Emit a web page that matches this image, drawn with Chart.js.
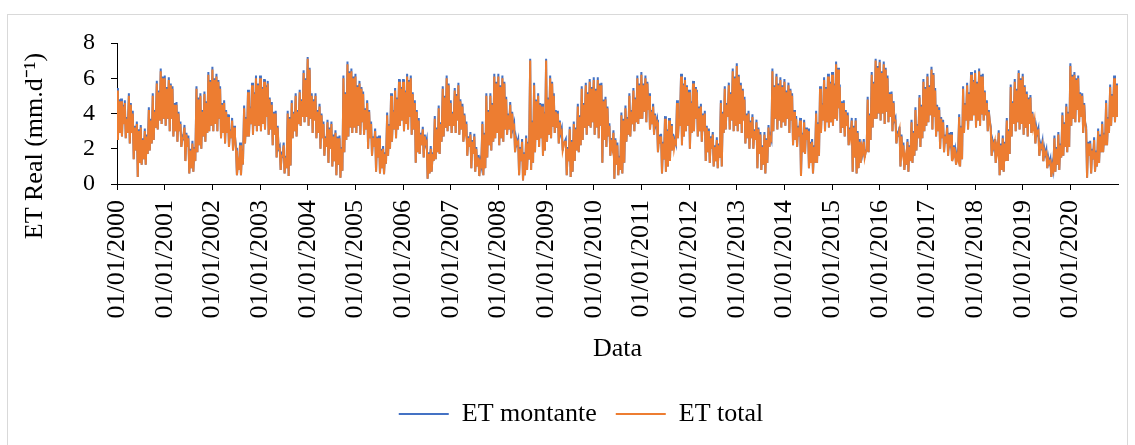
<!DOCTYPE html>
<html>
<head>
<meta charset="utf-8">
<script src="https://cdn.jsdelivr.net/npm/chart.js@4.4.1/dist/chart.umd.min.js"></script>
<style>
  html, body { margin: 0; padding: 0; background: #fff; }
  #frame { position: absolute; left: 7px; top: 14px; width: 1121px; height: 445px;
           border: 1px solid #d9d9d9; box-sizing: border-box; }
  #wrap { position: absolute; left: 0; top: 0; width: 1135px; height: 445px; }
</style>
</head>
<body>
<div id="frame"></div>
<div id="wrap"><canvas id="c" width="1135" height="445"></canvas></div>
<script>
// Years covered; each year holds 12 months x 4 samples (days below)
const years = [2000, 2001, 2002, 2003, 2004, 2005, 2006, 2007, 2008, 2009, 2010,
               2011, 2012, 2013, 2014, 2015, 2016, 2017, 2018, 2019, 2020];
const sampleDays = [1, 8, 16, 23];
const tickLabels = years.map(y => '01/01/' + y);
const yTicks = [0, 2, 4, 6, 8];
const yTitle = 'ET Real (mm.d⁻¹)';
const xTitle = 'Data';

// ET montante (mm/d) - one line per year, 4 samples per month
const etMontante = [
  5.45,2.5,4.8,2.9, 4.85,2.7,4.5,3.4, 4.75,2.6,3.8,2.9, 5.15,2.3,4.6,2.9, 4.15,1.4,3.3,1.9, 3.55,0.4,3.1,1.2, 3.35,1.1,2.6,1.4, 3.15,1.1,2.8,1.7, 4.35,1.9,3.7,2.3, 5.15,2.5,4.2,3.2, 5.85,3.1,5.3,3.6, 6.55,3.4,6.1,3.7,
  6.15,3.3,5.5,3.7, 6.05,3.0,5.7,3.7, 5.55,2.7,4.6,3.0, 4.65,2.4,4.1,3.0, 3.55,2.1,2.7,2.6, 3.35,1.3,2.9,2.1, 2.75,0.6,2.0,0.9, 2.45,0.7,2.1,1.3, 5.55,1.8,4.9,2.2, 5.15,2.0,4.2,2.7, 5.25,2.4,4.7,2.9, 6.35,3.0,5.9,3.3,
  6.65,3.0,6.0,3.4, 6.25,3.0,5.9,3.7, 5.55,2.6,4.6,2.9, 4.75,2.3,4.2,2.9, 3.95,2.1,3.1,2.6, 3.75,1.9,3.3,2.7, 2.05,0.5,1.3,0.8, 2.35,0.5,2.0,1.1, 4.45,2.3,3.8,2.7, 5.35,2.7,4.4,3.4, 5.75,2.8,5.2,3.3, 6.15,3.0,5.7,3.3,
  6.15,3.0,5.5,3.4, 5.95,3.1,5.6,3.8, 5.85,2.8,4.9,3.1, 4.65,2.2,4.1,2.8, 4.15,1.5,3.3,2.0, 2.15,0.8,1.7,1.6, 2.35,0.6,1.6,0.9, 4.15,0.45,3.8,1.05, 4.75,2.6,4.1,3.0, 5.15,2.7,4.2,3.4, 5.35,3.3,4.8,3.8, 6.45,3.5,6.0,3.8,
  7.2,3.3,6.6,3.7, 5.15,2.9,4.8,3.6, 5.15,2.6,4.2,2.9, 4.55,2.0,4.0,2.6, 3.55,1.6,2.7,2.1, 3.65,1.2,3.2,2.0, 3.55,1.0,2.8,1.3, 3.05,0.5,2.7,1.1, 2.75,0.35,2.1,0.75, 6.15,1.8,5.2,2.5, 6.95,2.7,6.4,3.2, 6.55,2.9,6.1,3.2,
  6.25,2.9,5.6,3.3, 5.85,2.8,5.5,3.5, 5.25,2.8,4.3,3.1, 4.75,2.0,4.2,2.6, 3.55,1.6,2.7,2.1, 3.15,0.7,2.7,1.5, 2.75,0.6,2.0,0.9, 2.15,0.55,1.8,1.15, 4.05,1.6,3.4,2.0, 5.15,2.4,4.2,3.1, 5.45,2.6,4.9,3.1, 5.95,3.3,5.5,3.6,
  5.95,3.0,5.3,3.4, 6.25,3.1,5.9,3.8, 6.15,2.8,5.2,3.1, 4.75,1.2,4.2,1.8, 3.75,1.7,2.9,2.2, 3.25,1.5,2.8,2.3, 2.55,0.3,1.8,0.6, 2.15,0.7,1.8,1.3, 3.85,1.4,3.2,1.8, 4.45,1.7,3.5,2.4, 5.55,2.7,5.0,3.2, 6.15,3.0,5.7,3.3,
  4.75,2.9,4.1,3.3, 5.45,2.9,5.1,3.6, 5.75,2.8,4.8,3.1, 4.55,2.4,4.0,3.0, 3.55,1.6,2.7,2.1, 2.95,0.9,2.5,1.7, 2.85,0.7,2.1,1.0, 1.65,0.45,1.3,1.05, 3.55,0.5,2.9,0.9, 5.15,1.5,4.2,2.2, 5.15,1.9,4.6,2.4, 6.25,2.6,5.8,2.9,
  6.25,2.2,5.6,2.6, 6.15,2.4,5.8,3.1, 4.95,2.8,4.0,3.1, 4.65,2.6,4.1,3.2, 3.45,1.8,2.6,2.3, 2.55,0.5,2.1,1.3, 2.55,0.2,1.8,0.5, 2.75,0.8,2.4,1.4, 7.1,0.8,3.6,1.2, 5.75,1.8,4.8,2.5, 5.15,2.1,4.6,2.6, 4.55,1.6,4.1,1.9,
  7.1,2.4,4.9,2.8, 6.15,2.6,5.8,3.3, 5.15,2.9,4.2,3.2, 4.15,2.3,3.6,2.9, 3.15,1.9,2.3,2.4, 2.55,0.5,2.1,1.3, 3.25,0.4,2.5,0.7, 3.55,1.3,3.2,1.9, 4.55,1.8,3.9,2.2, 5.55,2.5,4.6,3.2, 5.75,2.8,5.2,3.3, 5.95,3.2,5.5,3.5,
  6.05,2.8,5.4,3.2, 6.05,2.6,5.7,3.3, 5.75,1.2,4.8,2.5, 4.95,2.1,4.4,2.7, 3.45,1.6,2.6,2.1, 3.05,0.3,2.6,1.1, 2.35,0.5,1.6,0.8, 4.05,0.6,3.7,1.2, 4.45,2.4,3.8,2.8, 5.15,2.7,4.2,3.4, 5.45,3.0,4.9,3.5, 6.15,3.4,5.7,3.7,
  6.35,3.7,5.7,4.1, 6.15,3.5,5.8,4.2, 5.15,3.1,4.2,3.4, 4.55,2.8,4.0,3.4, 3.65,1.8,2.8,2.3, 2.85,0.6,2.4,1.4, 3.85,0.7,3.1,1.0, 3.75,1.3,3.4,1.9, 2.85,2.0,2.5,2.3, 4.75,2.6,3.8,3.3, 6.25,2.2,5.7,2.7, 6.05,3.0,5.6,3.3,
  5.35,2.0,4.7,2.9, 5.85,3.0,5.5,3.7, 5.35,2.7,4.4,3.0, 4.55,2.4,4.0,3.0, 4.15,1.3,3.3,1.8, 3.15,1.2,2.7,2.0, 2.95,1.0,2.2,1.3, 2.65,0.9,2.3,1.5, 4.75,1.0,4.1,2.9, 5.55,3.1,4.6,3.8, 5.75,3.1,5.2,3.6, 6.55,3.0,6.1,3.3,
  6.85,3.0,6.2,3.4, 5.75,2.9,5.4,3.6, 4.95,2.3,4.0,2.6, 4.15,2.0,3.6,2.6, 3.95,2.0,3.1,2.5, 3.65,0.9,3.2,1.7, 2.95,0.8,2.2,1.1, 2.95,0.6,2.6,1.2, 3.35,2.1,2.7,2.5, 6.55,3.0,5.6,3.7, 6.25,3.1,5.7,3.6, 6.05,3.2,5.6,3.5,
  5.95,3.3,5.3,3.7, 5.75,2.9,5.4,3.6, 5.15,2.2,4.2,2.5, 3.85,2.1,3.3,2.7, 3.75,0.45,2.9,1.8, 3.65,1.7,3.2,2.5, 3.15,0.9,2.4,1.2, 2.55,0.6,2.2,1.2, 4.15,1.2,3.5,1.6, 5.55,2.9,4.6,3.6, 6.05,3.0,5.5,3.5, 6.25,3.2,5.8,3.5,
  6.35,3.3,5.7,3.7, 6.95,3.6,6.6,4.3, 5.65,2.9,4.7,3.2, 4.75,2.7,4.2,3.3, 4.05,2.2,3.2,2.7, 3.75,0.7,3.3,1.5, 3.75,0.6,3.0,0.9, 2.55,1.2,2.2,1.8, 2.55,1.5,1.9,1.9, 4.95,1.8,4.0,2.5, 6.35,3.2,5.8,3.7, 7.1,3.7,6.7,4.0,
  7.05,3.6,6.4,4.0, 6.95,3.4,6.6,4.1, 6.15,3.5,5.2,3.8, 5.25,3.0,4.7,3.6, 3.75,2.3,2.9,2.8, 3.25,1.0,2.8,1.8, 2.35,0.8,1.6,1.1, 2.55,0.7,2.2,1.3, 3.65,1.2,3.0,1.6, 4.35,1.9,3.4,2.6, 5.05,2.1,4.5,2.6, 5.95,3.0,5.5,3.3,
  6.25,3.5,5.6,3.9, 6.65,3.1,6.3,3.8, 5.45,2.7,4.5,3.0, 4.35,2.0,3.8,2.6, 3.65,1.8,2.8,2.3, 3.35,1.6,2.9,2.4, 2.95,1.3,2.2,1.6, 1.95,1.1,1.7,1.4, 3.95,1.0,3.3,1.4, 5.55,2.9,4.6,3.6, 5.75,3.1,5.2,3.6, 6.35,3.6,5.9,3.9,
  6.45,3.2,5.8,3.6, 6.55,3.3,6.2,4.0, 6.25,3.6,5.3,3.9, 4.75,3.0,4.2,3.6, 3.25,1.6,2.4,2.1, 2.55,1.2,2.2,1.8, 3.05,0.5,2.3,0.8, 2.75,0.7,2.4,1.3, 3.75,1.3,3.1,1.7, 5.65,2.7,4.7,3.4, 5.95,3.0,5.4,3.5, 6.45,3.1,6.0,3.4,
  6.25,2.8,5.6,3.2, 5.25,2.7,4.9,3.4, 5.05,2.9,4.1,3.2, 3.75,2.3,3.2,2.9, 3.15,1.6,2.3,2.1, 2.45,1.3,2.0,1.7, 1.95,0.9,1.5,1.2, 1.45,0.4,1.1,0.8, 2.75,0.7,2.1,1.1, 2.95,0.8,2.3,1.5, 4.05,1.6,3.5,2.1, 4.55,1.8,4.1,2.1,
  6.85,3.3,6.2,3.7, 6.35,3.5,6.0,4.2, 6.15,3.5,5.2,3.8, 5.15,2.9,4.6,3.5, 3.25,0.35,2.4,1.6, 2.45,0.6,2.0,1.4, 2.65,0.7,1.9,1.0, 3.15,1.2,2.8,1.8, 3.55,1.8,2.9,2.2, 4.75,2.2,3.8,2.9, 5.65,3.3,5.1,3.8, 6.15,3.5,5.7,3.8
];

// ET total (mm/d) - one line per year, 4 samples per month
const etTotal = [
  5.3,2.5,4.7,2.9, 4.7,2.7,4.4,3.4, 4.6,2.6,3.7,2.9, 5.0,2.3,4.5,2.9, 4.0,1.4,3.2,1.9, 3.4,0.4,3.0,1.2, 3.2,1.1,2.5,1.4, 3.0,1.1,2.7,1.7, 4.2,1.9,3.6,2.3, 5.0,2.5,4.1,3.2, 5.7,3.1,5.2,3.6, 6.4,3.4,6.0,3.7,
  6.0,3.3,5.4,3.7, 5.9,3.0,5.6,3.7, 5.4,2.7,4.5,3.0, 4.5,2.4,4.0,3.0, 3.4,2.1,2.6,2.6, 3.2,1.3,2.8,2.1, 2.6,0.6,1.9,0.9, 2.3,0.7,2.0,1.3, 5.4,1.8,4.8,2.2, 5.0,2.0,4.1,2.7, 5.1,2.4,4.6,2.9, 6.2,3.0,5.8,3.3,
  6.5,3.0,5.9,3.4, 6.1,3.0,5.8,3.7, 5.4,2.6,4.5,2.9, 4.6,2.3,4.1,2.9, 3.8,2.1,3.0,2.6, 3.6,1.9,3.2,2.7, 1.9,0.5,1.2,0.8, 2.2,0.5,1.9,1.1, 4.3,2.3,3.7,2.7, 5.2,2.7,4.3,3.4, 5.6,2.8,5.1,3.3, 6.0,3.0,5.6,3.3,
  6.0,3.0,5.4,3.4, 5.8,3.1,5.5,3.8, 5.7,2.8,4.8,3.1, 4.5,2.2,4.0,2.8, 4.0,1.5,3.2,2.0, 2.0,0.8,1.6,1.6, 2.2,0.6,1.5,0.9, 4.0,0.45,3.7,1.05, 4.6,2.6,4.0,3.0, 5.0,2.7,4.1,3.4, 5.2,3.3,4.7,3.8, 6.3,3.5,5.9,3.8,
  7.1,3.3,6.5,3.7, 5.0,2.9,4.7,3.6, 5.0,2.6,4.1,2.9, 4.4,2.0,3.9,2.6, 3.4,1.6,2.6,2.1, 3.5,1.2,3.1,2.0, 3.4,1.0,2.7,1.3, 2.9,0.5,2.6,1.1, 2.6,0.35,2.0,0.75, 6.0,1.8,5.1,2.5, 6.8,2.7,6.3,3.2, 6.4,2.9,6.0,3.2,
  6.1,2.9,5.5,3.3, 5.7,2.8,5.4,3.5, 5.1,2.8,4.2,3.1, 4.6,2.0,4.1,2.6, 3.4,1.6,2.6,2.1, 3.0,0.7,2.6,1.5, 2.6,0.6,1.9,0.9, 2.0,0.55,1.7,1.15, 3.9,1.6,3.3,2.0, 5.0,2.4,4.1,3.1, 5.3,2.6,4.8,3.1, 5.8,3.3,5.4,3.6,
  5.8,3.0,5.2,3.4, 6.1,3.1,5.8,3.8, 6.0,2.8,5.1,3.1, 4.6,1.2,4.1,1.8, 3.6,1.7,2.8,2.2, 3.1,1.5,2.7,2.3, 2.4,0.3,1.7,0.6, 2.0,0.7,1.7,1.3, 3.7,1.4,3.1,1.8, 4.3,1.7,3.4,2.4, 5.4,2.7,4.9,3.2, 6.0,3.0,5.6,3.3,
  4.6,2.9,4.0,3.3, 5.3,2.9,5.0,3.6, 5.6,2.8,4.7,3.1, 4.4,2.4,3.9,3.0, 3.4,1.6,2.6,2.1, 2.8,0.9,2.4,1.7, 2.7,0.7,2.0,1.0, 1.5,0.45,1.2,1.05, 3.4,0.5,2.8,0.9, 5.0,1.5,4.1,2.2, 5.0,1.9,4.5,2.4, 6.1,2.6,5.7,2.9,
  6.1,2.2,5.5,2.6, 6.0,2.4,5.7,3.1, 4.8,2.8,3.9,3.1, 4.5,2.6,4.0,3.2, 3.3,1.8,2.5,2.3, 2.4,0.5,2.0,1.3, 2.4,0.2,1.7,0.5, 2.6,0.8,2.3,1.4, 7.0,0.8,3.5,1.2, 5.6,1.8,4.7,2.5, 5.0,2.1,4.5,2.6, 4.4,1.6,4.0,1.9,
  7.0,2.4,4.8,2.8, 6.0,2.6,5.7,3.3, 5.0,2.9,4.1,3.2, 4.0,2.3,3.5,2.9, 3.0,1.9,2.2,2.4, 2.4,0.5,2.0,1.3, 3.1,0.4,2.4,0.7, 3.4,1.3,3.1,1.9, 4.4,1.8,3.8,2.2, 5.4,2.5,4.5,3.2, 5.6,2.8,5.1,3.3, 5.8,3.2,5.4,3.5,
  5.9,2.8,5.3,3.2, 5.9,2.6,5.6,3.3, 5.6,1.2,4.7,2.5, 4.8,2.1,4.3,2.7, 3.3,1.6,2.5,2.1, 2.9,0.3,2.5,1.1, 2.2,0.5,1.5,0.8, 3.9,0.6,3.6,1.2, 4.3,2.4,3.7,2.8, 5.0,2.7,4.1,3.4, 5.3,3.0,4.8,3.5, 6.0,3.4,5.6,3.7,
  6.2,3.7,5.6,4.1, 6.0,3.5,5.7,4.2, 5.0,3.1,4.1,3.4, 4.4,2.8,3.9,3.4, 3.5,1.8,2.7,2.3, 2.7,0.6,2.3,1.4, 3.7,0.7,3.0,1.0, 3.6,1.3,3.3,1.9, 2.7,2.0,2.4,2.3, 4.6,2.6,3.7,3.3, 6.1,2.2,5.6,2.7, 5.9,3.0,5.5,3.3,
  5.2,2.0,4.6,2.9, 5.7,3.0,5.4,3.7, 5.2,2.7,4.3,3.0, 4.4,2.4,3.9,3.0, 4.0,1.3,3.2,1.8, 3.0,1.2,2.6,2.0, 2.8,1.0,2.1,1.3, 2.5,0.9,2.2,1.5, 4.6,1.0,4.0,2.9, 5.4,3.1,4.5,3.8, 5.6,3.1,5.1,3.6, 6.4,3.0,6.0,3.3,
  6.7,3.0,6.1,3.4, 5.6,2.9,5.3,3.6, 4.8,2.3,3.9,2.6, 4.0,2.0,3.5,2.6, 3.8,2.0,3.0,2.5, 3.5,0.9,3.1,1.7, 2.8,0.8,2.1,1.1, 2.8,0.6,2.5,1.2, 3.2,2.1,2.6,2.5, 6.4,3.0,5.5,3.7, 6.1,3.1,5.6,3.6, 5.9,3.2,5.5,3.5,
  5.8,3.3,5.2,3.7, 5.6,2.9,5.3,3.6, 5.0,2.2,4.1,2.5, 3.7,2.1,3.2,2.7, 3.6,0.45,2.8,1.8, 3.5,1.7,3.1,2.5, 3.0,0.9,2.3,1.2, 2.4,0.6,2.1,1.2, 4.0,1.2,3.4,1.6, 5.4,2.9,4.5,3.6, 5.9,3.0,5.4,3.5, 6.1,3.2,5.7,3.5,
  6.2,3.3,5.6,3.7, 6.8,3.6,6.5,4.3, 5.5,2.9,4.6,3.2, 4.6,2.7,4.1,3.3, 3.9,2.2,3.1,2.7, 3.6,0.7,3.2,1.5, 3.6,0.6,2.9,0.9, 2.4,1.2,2.1,1.8, 2.4,1.5,1.8,1.9, 4.8,1.8,3.9,2.5, 6.2,3.2,5.7,3.7, 7.0,3.7,6.6,4.0,
  6.9,3.6,6.3,4.0, 6.8,3.4,6.5,4.1, 6.0,3.5,5.1,3.8, 5.1,3.0,4.6,3.6, 3.6,2.3,2.8,2.8, 3.1,1.0,2.7,1.8, 2.2,0.8,1.5,1.1, 2.4,0.7,2.1,1.3, 3.5,1.2,2.9,1.6, 4.2,1.9,3.3,2.6, 4.9,2.1,4.4,2.6, 5.8,3.0,5.4,3.3,
  6.1,3.5,5.5,3.9, 6.5,3.1,6.2,3.8, 5.3,2.7,4.4,3.0, 4.2,2.0,3.7,2.6, 3.5,1.8,2.7,2.3, 3.2,1.6,2.8,2.4, 2.8,1.3,2.1,1.6, 1.8,1.1,1.6,1.4, 3.8,1.0,3.2,1.4, 5.4,2.9,4.5,3.6, 5.6,3.1,5.1,3.6, 6.2,3.6,5.8,3.9,
  6.3,3.2,5.7,3.6, 6.4,3.3,6.1,4.0, 6.1,3.6,5.2,3.9, 4.6,3.0,4.1,3.6, 3.1,1.6,2.3,2.1, 2.4,1.2,2.1,1.8, 2.9,0.5,2.2,0.8, 2.6,0.7,2.3,1.3, 3.6,1.3,3.0,1.7, 5.5,2.7,4.6,3.4, 5.8,3.0,5.3,3.5, 6.3,3.1,5.9,3.4,
  6.1,2.8,5.5,3.2, 5.1,2.7,4.8,3.4, 4.9,2.9,4.0,3.2, 3.6,2.3,3.1,2.9, 3.0,1.6,2.2,2.1, 2.3,1.3,1.9,1.7, 1.8,0.9,1.4,1.2, 1.3,0.4,1.0,0.8, 2.6,0.7,2.0,1.1, 2.8,0.8,2.2,1.5, 3.9,1.6,3.4,2.1, 4.4,1.8,4.0,2.1,
  6.7,3.3,6.1,3.7, 6.2,3.5,5.9,4.2, 6.0,3.5,5.1,3.8, 5.0,2.9,4.5,3.5, 3.1,0.35,2.3,1.6, 2.3,0.6,1.9,1.4, 2.5,0.7,1.8,1.0, 3.0,1.2,2.7,1.8, 3.4,1.8,2.8,2.2, 4.6,2.2,3.7,2.9, 5.5,3.3,5.0,3.8, 6.0,3.5,5.6,3.8
];

// Day offsets (from 01/01 of the first year) of every sample
const origin = Date.UTC(years[0], 0, 1);
const dayIndex = (y, m, d) => (Date.UTC(y, m, d) - origin) / 86400000;
const sampleX = [];
years.forEach(y => {
  for (let m = 0; m < 12; m++) sampleDays.forEach(d => sampleX.push(dayIndex(y, m, d)));
});
const toPoints = arr => arr.map((v, i) => ({ x: sampleX[i], y: v }));
const yearTicks = years.map(y => dayIndex(y, 0, 1));
const lastDay = dayIndex(years[years.length - 1], 11, 31);

const serif = "'Liberation Serif', 'Times New Roman', serif";
Chart.defaults.color = '#000';
Chart.defaults.font.family = serif;

// Vertical axis title, placed beside the value axis
const yTitlePlugin = {
  id: 'yTitle',
  afterDraw(chart) {
    const ctx = chart.ctx;
    ctx.save();
    ctx.translate(35, 146);
    ctx.rotate(-Math.PI / 2);
    ctx.font = '26px ' + serif;
    ctx.fillStyle = '#000';
    ctx.textAlign = 'center';
    ctx.textBaseline = 'middle';
    ctx.fillText(yTitle, 0, 0);
    ctx.restore();
  }
};

new Chart(document.getElementById('c'), {
  type: 'line',
  data: {
    datasets: [
      { label: 'ET montante', data: toPoints(etMontante), borderColor: '#4472C4',
        backgroundColor: '#4472C4', borderWidth: 2, pointRadius: 0, pointStyle: 'line',
        tension: 0, order: 1 },
      { label: 'ET total', data: toPoints(etTotal), borderColor: '#ED7D31',
        backgroundColor: '#ED7D31', borderWidth: 2, pointRadius: 0, pointStyle: 'line',
        tension: 0, order: 0 }
    ]
  },
  plugins: [yTitlePlugin],
  options: {
    responsive: false,
    animation: false,
    events: [],
    layout: { padding: { top: 43, right: 17, bottom: 8, left: 44 } },
    plugins: {
      tooltip: { enabled: false },
      legend: {
        position: 'bottom',
        labels: {
          usePointStyle: true,
          pointStyle: 'line',
          pointStyleWidth: 50,
          padding: 19,
          font: { size: 26, family: serif },
          color: '#000',
          sort: (a, b) => a.datasetIndex - b.datasetIndex
        }
      }
    },
    scales: {
      x: {
        type: 'linear',
        min: 0,
        max: lastDay,
        afterBuildTicks: scale => { scale.ticks = yearTicks.map(v => ({ value: v })); },
        afterFit: scale => { scale.height = 198; },
        ticks: {
          autoSkip: false,
          minRotation: 90,
          maxRotation: 90,
          padding: 10,
          font: { size: 26, family: serif },
          color: '#000',
          callback: (v, i) => tickLabels[i]
        },
        grid: { drawOnChartArea: false, drawTicks: true, tickLength: 6, color: '#000' },
        border: { color: '#000', width: 1 },
        title: { display: true, text: xTitle, font: { size: 26, family: serif }, color: '#000',
                 padding: { top: 0, bottom: 17 } }
      },
      y: {
        min: 0,
        max: 8,
        afterBuildTicks: scale => { scale.ticks = yTicks.map(v => ({ value: v })); },
        afterFit: scale => { scale.width = 73; },
        ticks: { padding: 16, font: { size: 24, family: serif }, color: '#000' },
        grid: { drawOnChartArea: false, drawTicks: true, tickLength: 6, color: '#000' },
        border: { color: '#000', width: 1 },
        title: { display: false }
      }
    }
  }
});
</script>
</body>
</html>
